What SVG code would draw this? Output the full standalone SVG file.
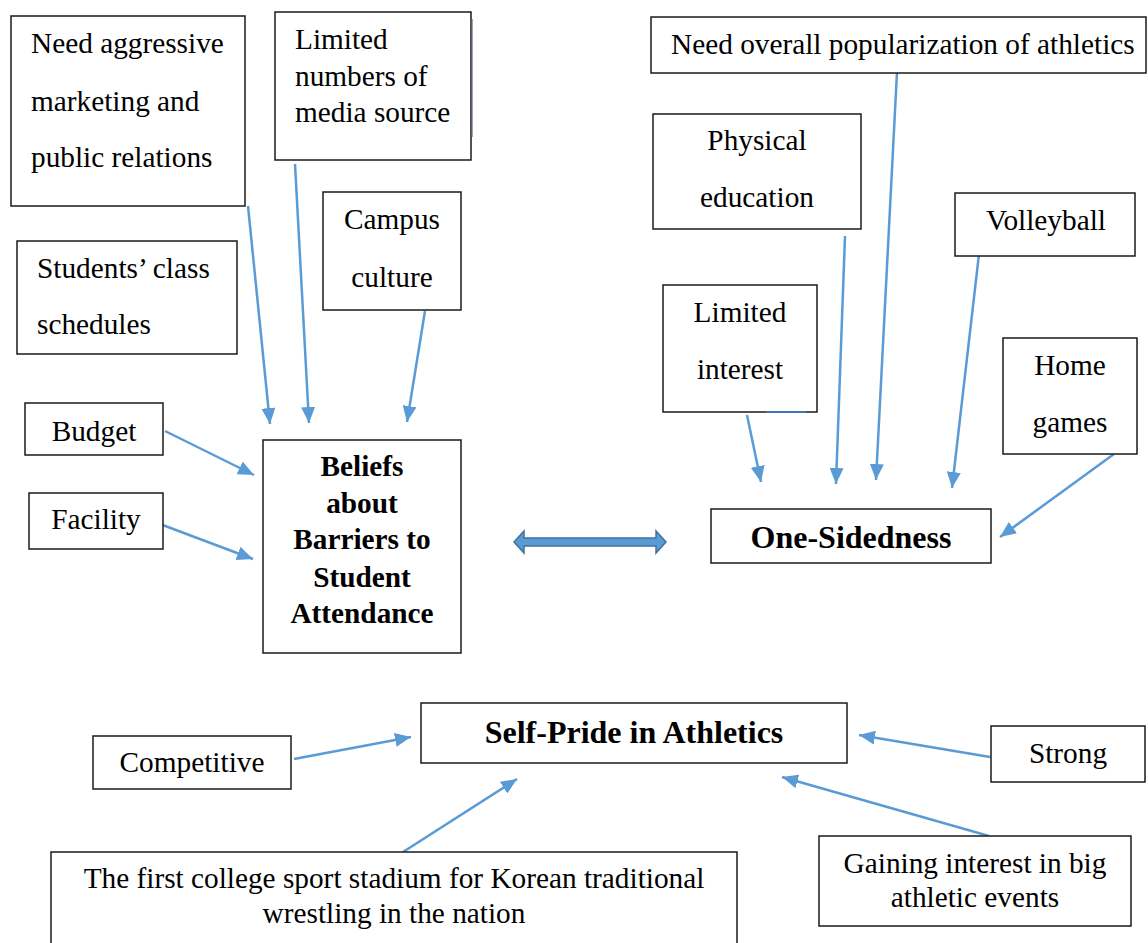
<svg xmlns="http://www.w3.org/2000/svg" width="1148" height="943" viewBox="0 0 1148 943" font-family="'Liberation Serif', 'Times New Roman', Times, serif">
<defs>
<style>
text{font-family:'Liberation Serif', 'Times New Roman', Times, serif}
.box{fill:#fff;stroke:#1a1a1a;stroke-width:1.5}
.t{font-size:29.3px;fill:#000}
.c{text-anchor:middle}
.b{font-weight:bold}
.h{font-weight:bold;font-size:32px}
.con{stroke:#5b9bd5;stroke-width:2.5;fill:none;marker-end:url(#ah)}
</style>
<marker id="ah" viewBox="0 0 16 14" refX="16" refY="7" markerWidth="16" markerHeight="14" markerUnits="userSpaceOnUse" orient="auto">
<path d="M0,0 L16,7 L0,14 z" fill="#5b9bd5"/>
</marker>
</defs>
<rect width="1148" height="943" fill="#fff"/>

<g id="connectors">
<line class="con" x1="248" y1="206" x2="270" y2="424"/>
<line class="con" x1="295" y1="164" x2="309" y2="423"/>
<line class="con" x1="425" y1="311" x2="407" y2="422"/>
<line class="con" x1="165" y1="431" x2="254" y2="475"/>
<line class="con" x1="160" y1="524" x2="253" y2="559"/>
<line class="con" x1="747" y1="415" x2="761" y2="482"/>
<line class="con" x1="845" y1="236" x2="836" y2="484"/>
<line class="con" x1="897" y1="72" x2="876" y2="480"/>
<line class="con" x1="979" y1="254" x2="952" y2="488"/>
<line class="con" x1="1114" y1="454" x2="1000" y2="537"/>
<line class="con" x1="294" y1="759" x2="411" y2="737"/>
<line class="con" x1="403" y1="852" x2="517" y2="779"/>
<line class="con" x1="990" y1="757" x2="859" y2="735"/>
<line class="con" x1="989" y1="836" x2="782" y2="777"/>
<polygon id="double-arrow" points="514,542 524,531 524,538 656,538 656,531 666,542 656,553 656,546 524,546 524,553" fill="#5b9bd5" stroke="#41719c" stroke-width="1.5"/>
</g>

<g id="n-aggressive">
<rect class="box" x="11" y="16" width="234" height="190"/>
<text class="t" x="31" y="53">Need aggressive</text>
<text class="t" x="31" y="111">marketing and</text>
<text class="t" x="31" y="167">public relations</text>
</g>

<g id="n-media">
<rect class="box" x="275" y="12" width="196" height="148"/>
<line x1="472" y1="19" x2="472" y2="137" stroke="#5a6a7a" stroke-width="1.2"/>
<text class="t" x="295" y="49">Limited</text>
<text class="t" x="295" y="86">numbers of</text>
<text class="t" x="295" y="122">media source</text>
</g>

<g id="n-campus">
<rect class="box" x="323" y="192" width="138" height="118"/>
<text class="t c" x="392" y="229">Campus</text>
<text class="t c" x="392" y="287">culture</text>
</g>

<g id="n-schedules">
<rect class="box" x="17" y="241" width="220" height="113"/>
<text class="t" x="37" y="278">Students’ class</text>
<text class="t" x="37" y="334">schedules</text>
</g>

<g id="n-budget">
<rect class="box" x="25" y="403" width="138" height="52"/>
<text class="t c" x="94" y="441">Budget</text>
</g>

<g id="n-facility">
<rect class="box" x="29" y="493" width="134" height="56"/>
<text class="t c" x="96" y="529">Facility</text>
</g>

<g id="n-beliefs">
<rect class="box" x="263" y="440" width="198" height="213"/>
<text class="t c b" x="362" y="476">Beliefs</text>
<text class="t c b" x="362" y="513">about</text>
<text class="t c b" x="362" y="549">Barriers to</text>
<text class="t c b" x="362" y="587">Student</text>
<text class="t c b" x="362" y="623">Attendance</text>
</g>

<g id="n-popularization">
<rect class="box" x="651" y="17" width="495" height="56"/>
<text class="t" x="671" y="54">Need overall popularization of athletics</text>
</g>

<g id="n-physical">
<rect class="box" x="653" y="114" width="208" height="115"/>
<text class="t c" x="757" y="150">Physical</text>
<text class="t c" x="757" y="207">education</text>
</g>

<g id="n-volleyball">
<rect class="box" x="955" y="193" width="180" height="63"/>
<text class="t c" x="1046" y="230">Volleyball</text>
</g>

<g id="n-limited">
<rect class="box" x="663" y="285" width="154" height="127"/>
<line x1="766" y1="412" x2="806" y2="412" stroke="#3f78b0" stroke-width="2"/>
<text class="t c" x="740" y="322">Limited</text>
<text class="t c" x="740" y="379">interest</text>
</g>

<g id="n-home">
<rect class="box" x="1003" y="338" width="134" height="116"/>
<text class="t c" x="1070" y="375">Home</text>
<text class="t c" x="1070" y="432">games</text>
</g>

<g id="n-onesided">
<rect class="box" x="711" y="509" width="280" height="54"/>
<text class="t c h" x="851" y="548">One-Sidedness</text>
</g>

<g id="n-selfpride">
<rect class="box" x="421" y="703" width="426" height="60"/>
<text class="t c h" x="634" y="743">Self-Pride in Athletics</text>
</g>

<g id="n-competitive">
<rect class="box" x="93" y="736" width="198" height="53"/>
<text class="t c" x="192" y="772">Competitive</text>
</g>

<g id="n-strong">
<rect class="box" x="991" y="726" width="154" height="56"/>
<text class="t c" x="1068" y="763">Strong</text>
</g>

<g id="n-stadium">
<rect class="box" x="51" y="852" width="686" height="110"/>
<text class="t c" x="394" y="888">The first college sport stadium for Korean traditional</text>
<text class="t c" x="394" y="923">wrestling in the nation</text>
</g>

<g id="n-gaining">
<rect class="box" x="819" y="836" width="312" height="90"/>
<text class="t c" x="975" y="873">Gaining interest in big</text>
<text class="t c" x="975" y="907">athletic events</text>
</g>
</svg>
